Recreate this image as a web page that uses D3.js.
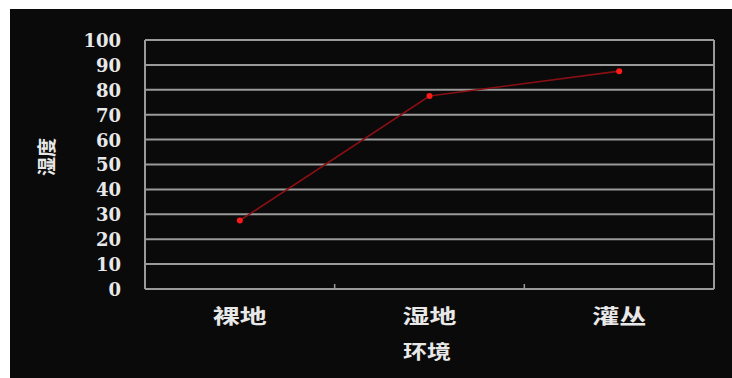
<!DOCTYPE html>
<html>
<head>
<meta charset="utf-8">
<script src="https://cdn.jsdelivr.net/npm/d3@7"></script>
<style>
  html, body { margin: 0; padding: 0; background: #ffffff; }
  svg { display: block; }
</style>
</head>
<body>
<svg id="chart" width="732" height="378"></svg>
<script>
// Humidity by environment type
const categories = ["裸地", "湿地", "灌丛"];
const humidity = [27.5, 77.5, 87.5];
const yTicks = [0, 10, 20, 30, 40, 50, 60, 70, 80, 90, 100];
const xTitle = "环境";
const yTitle = "湿度";

const svg = d3.select("#chart");
const W = 732, H = 378;

// dark panel
svg.append("rect").attr("x", 10).attr("y", 9).attr("width", W - 10).attr("height", H - 9)
  .attr("fill", "#0a0a0a");

const plot = { left: 145, right: 714, top: 40, bottom: 289 };

const x = d3.scaleBand().domain(categories).range([plot.left, plot.right]).padding(0);
const y = d3.scaleLinear().domain([0, 100]).range([plot.bottom, plot.top]);

const grid = "#9a9a9a";
const ink = "#e8e8e8";
const cjk = "'Noto Sans CJK SC', sans-serif";

// horizontal gridlines
svg.append("g").selectAll("line").data(yTicks).join("line")
  .attr("x1", plot.left).attr("x2", plot.right)
  .attr("y1", d => y(d)).attr("y2", d => y(d))
  .attr("stroke", grid).attr("stroke-width", 2);

// vertical frame edges
[plot.left, plot.right].forEach(px => {
  svg.append("line").attr("x1", px).attr("x2", px)
    .attr("y1", plot.top).attr("y2", plot.bottom).attr("stroke", grid).attr("stroke-width", 2);
});

// category boundary ticks on the x axis
const bounds = categories.slice(1).map(c => x(c));
svg.append("g").selectAll("line").data(bounds).join("line")
  .attr("x1", d => d).attr("x2", d => d)
  .attr("y1", plot.bottom - 5).attr("y2", plot.bottom)
  .attr("stroke", grid).attr("stroke-width", 1.5);

// y tick labels
const yAxis = d3.axisLeft(y).tickValues(yTicks).tickSize(0).tickPadding(0);
const yg = svg.append("g").attr("transform", `translate(${plot.left - 24},0)`).call(yAxis);
yg.select(".domain").remove();
yg.selectAll("text")
  .attr("fill", ink)
  .attr("font-family", "'DejaVu Serif', 'Liberation Serif', serif")
  .attr("font-weight", "bold")
  .attr("font-size", 18)
  .attr("dy", "0.36em");

// x category labels
const xAxis = d3.axisBottom(x).tickSize(0).tickPadding(0);
const xg = svg.append("g").attr("transform", `translate(0,${plot.bottom + 21})`).call(xAxis);
xg.select(".domain").remove();
xg.selectAll("text")
  .attr("fill", ink)
  .attr("font-family", cjk)
  .attr("font-weight", "bold")
  .attr("font-size", 20)
  .attr("textLength", 54)
  .attr("lengthAdjust", "spacingAndGlyphs")
  .attr("dy", "0.71em");

// axis titles
svg.append("text").text(xTitle)
  .attr("x", 427).attr("y", 352).attr("dy", "0.35em")
  .attr("text-anchor", "middle")
  .attr("textLength", 48)
  .attr("lengthAdjust", "spacingAndGlyphs")
  .attr("fill", ink)
  .attr("font-family", cjk)
  .attr("font-weight", "bold")
  .attr("font-size", 19);

svg.append("text").text(yTitle)
  .attr("transform", "translate(47,157) rotate(-90)")
  .attr("dy", "0.35em")
  .attr("text-anchor", "middle")
  .attr("fill", ink)
  .attr("font-family", cjk)
  .attr("font-weight", "bold")
  .attr("font-size", 19);

// series line and markers
const pts = categories.map((c, i) => [x(c) + x.bandwidth() / 2, y(humidity[i])]);
svg.append("path")
  .attr("d", d3.line()(pts))
  .attr("fill", "none")
  .attr("stroke", "#8a0f14")
  .attr("stroke-width", 1.6);

svg.append("g").selectAll("circle").data(pts).join("circle")
  .attr("cx", d => d[0]).attr("cy", d => d[1]).attr("r", 3)
  .attr("fill", "#ff1a1a");
</script>
</body>
</html>
